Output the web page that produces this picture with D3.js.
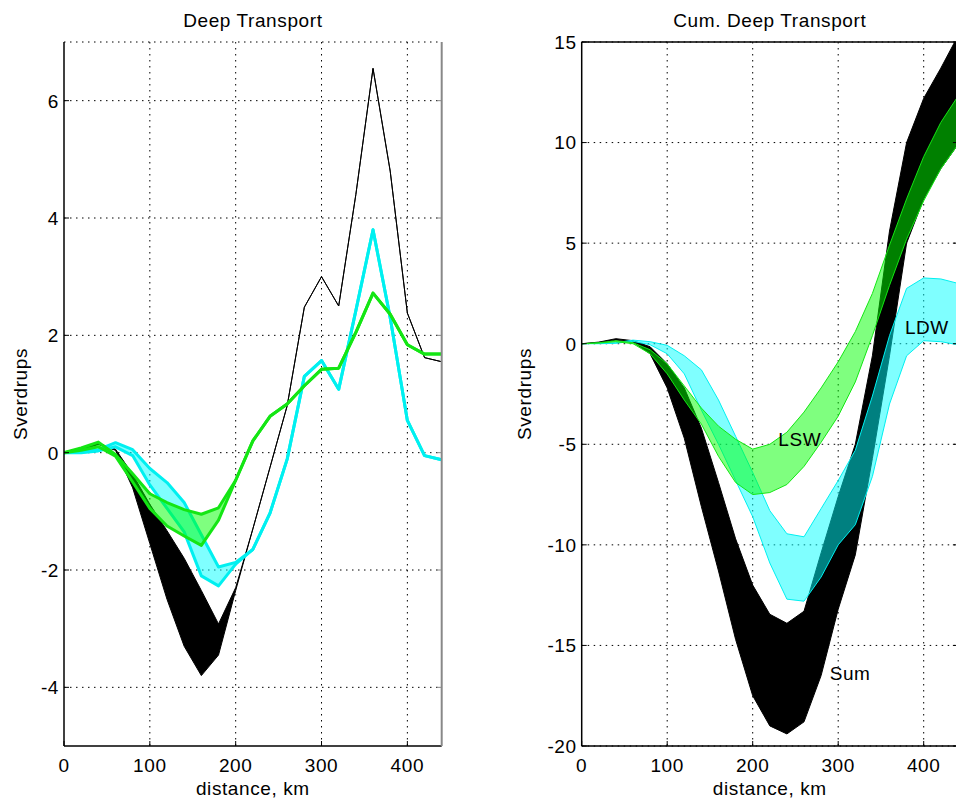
<!DOCTYPE html>
<html lang="en">
<head>
  <meta charset="UTF-8">
  <title>Deep Transport</title>
  <script src="https://d3js.org/d3.v7.min.js"></script>
  <style>
    body {
      margin: 0;
      background: #fff;
    }
    svg {
      display: block;
      font-family: "Liberation Sans", Arial, sans-serif;
    }
    text {
      font-size: 19px;
      letter-spacing: 0.6px;
      fill: #000;
    }
  </style>
</head>
<body>
  <svg id="chart" width="956" height="805"></svg>

  <script>
// distance along section, km
const distance = [0, 20, 40, 60, 80, 100, 120, 140, 160, 180, 200, 220,
  240, 260, 280, 300, 320, 340, 360, 380, 400, 420, 440];
const xTicks = [0, 100, 200, 300, 400];

// ---- Deep Transport (Sv per bin), upper / lower bounds ----
const sumHi = [0, 0.06, 0.16, 0.06, -0.37, -0.88, -1.33, -1.8, -2.35, -2.92, -2.3, -1.3,
  -0.25, 0.8, 2.48, 3.0, 2.5, 4.4, 6.55, 4.8, 2.38, 1.62, 1.55];
const sumLo = [0, 0.04, 0.14, 0.04, -0.6, -1.55, -2.5, -3.3, -3.8, -3.45, -2.35, -1.3,
  -0.25, 0.8, 2.48, 3.0, 2.5, 4.4, 6.55, 4.8, 2.38, 1.62, 1.55];
const lswHi = [0, 0.08, 0.18, -0.03, -0.36, -0.7, -0.85, -0.97, -1.05, -0.94, -0.47, 0.2,
  0.62, 0.83, 1.14, 1.42, 1.44, 2.05, 2.72, 2.36, 1.84, 1.68, 1.68];
const lswLo = [0, 0.04, 0.1, -0.06, -0.5, -0.95, -1.25, -1.42, -1.58, -1.15, -0.47, 0.2,
  0.62, 0.83, 1.14, 1.42, 1.44, 2.05, 2.72, 2.36, 1.84, 1.68, 1.68];
const ldwHi = [0, 0.02, 0.05, 0.17, 0.05, -0.27, -0.51, -0.85, -1.4, -1.95, -1.87, -1.65,
  -1.03, -0.11, 1.3, 1.57, 1.08, 2.42, 3.8, 2.3, 0.55, -0.05, -0.12];
const ldwLo = [0, 0.0, 0.03, 0.1, -0.05, -0.55, -0.95, -1.35, -2.1, -2.27, -1.9, -1.65,
  -1.03, -0.11, 1.3, 1.57, 1.08, 2.42, 3.8, 2.3, 0.55, -0.05, -0.12];
const deepTicks = [-4, -2, 0, 2, 4, 6];

// ---- Cumulative Deep Transport (Sv), upper / lower bounds ----
const cumSumHi = [0, 0.08, 0.25, 0.15, -0.15, -1.0, -2.2, -4.2, -6.9, -9.7, -12.0, -13.45,
  -13.9, -13.3, -10.4, -7.6, -5.0, -0.6, 5.6, 10.0, 12.2, 13.7, 15.3];
const cumSumLo = [0, 0.04, 0.18, 0.08, -0.5, -2.2, -4.7, -8.1, -11.3, -14.7, -17.5, -19.0,
  -19.4, -18.8, -16.5, -13.2, -10.5, -5.7, -0.6, 5.0, 7.2, 8.7, 9.9];
const cumLswHi = [0, 0.05, 0.15, 0.05, -0.3, -1.0, -2.1, -3.2, -4.1, -4.75, -5.24, -5.0,
  -4.4, -3.4, -2.2, -0.9, 0.6, 2.5, 4.9, 7.2, 9.3, 11.0, 12.3];
const cumLswLo = [0, 0.03, 0.1, 0.0, -0.5, -1.5, -2.8, -4.0, -5.6, -6.9, -7.5, -7.4,
  -7.0, -6.1, -4.9, -3.6, -1.9, 0.4, 2.9, 5.2, 7.1, 8.7, 9.9];
const cumLdwHi = [0, 0.02, 0.05, 0.18, 0.1, -0.08, -0.6, -1.3, -2.8, -4.6, -6.4, -8.3,
  -9.45, -9.6, -8.2, -6.8, -5.3, -2.6, 0.4, 2.75, 3.27, 3.22, 3.0];
const cumLdwLo = [0, 0.0, 0.02, 0.12, -0.05, -0.5, -1.5, -3.3, -5.0, -6.8, -8.6, -10.9,
  -12.7, -12.8, -11.6, -10.0, -9.0, -6.6, -3.0, -0.6, 0.15, 0.1, -0.05];
const cumTicks = [-20, -15, -10, -5, 0, 5, 10, 15];

// band names written inside the right panel
const cumLabels = [
  { text: "LSW", km: 230, sv: -5.1 },
  { text: "Sum", km: 290, sv: -16.7 },
  { text: "LDW", km: 378, sv: 0.5 }
];

const svg = d3.select("#chart");

function drawPanel(p) {
  const x = d3.scaleLinear().domain([0, 440]).range([p.left, p.right]);
  const y = d3.scaleLinear().domain(p.yDomain).range([746, 42]);
  const g = svg.append("g");

  g.append("clipPath").attr("id", p.id + "-clip")
    .append("rect")
    .attr("x", p.left).attr("y", 42)
    .attr("width", p.right - p.left).attr("height", 704);

  // dotted grid
  g.selectAll(".vgrid").data(xTicks.filter(d => d > 0)).enter()
    .append("line")
    .attr("x1", d => x(d)).attr("x2", d => x(d))
    .attr("y1", 42).attr("y2", 746)
    .attr("stroke", "#000").attr("stroke-width", 1)
    .attr("stroke-dasharray", "1.5,4.5");
  g.selectAll(".hgrid").data(p.yTicks.concat(p.dottedTop ? [p.yDomain[1]] : [])).enter()
    .append("line")
    .attr("x1", p.left).attr("x2", p.right)
    .attr("y1", d => y(d)).attr("y2", d => y(d))
    .attr("stroke", "#000").attr("stroke-width", 1)
    .attr("stroke-dasharray", "1.5,4.5");

  // bands
  const plot = g.append("g").attr("clip-path", `url(#${p.id}-clip)`);
  p.bands.forEach(b => {
    const rows = distance.map((d, i) => ({ d, hi: b.hi[i], lo: b.lo[i] }));
    const area = d3.area().x(r => x(r.d)).y0(r => y(r.lo)).y1(r => y(r.hi));
    plot.append("path")
      .attr("d", area(rows))
      .attr("fill", b.fill)
      .attr("fill-opacity", b.opacity);
    [r => r.hi, r => r.lo].forEach(acc => {
      plot.append("path")
        .attr("d", d3.line().x(r => x(r.d)).y(r => y(acc(r)))(rows))
        .attr("fill", "none")
        .attr("stroke", b.stroke)
        .attr("stroke-width", b.width)
        .attr("stroke-linejoin", "round");
    });
  });

  // axes box
  g.append("line").attr("x1", p.left).attr("x2", p.left).attr("y1", 42).attr("y2", 746)
    .attr("stroke", "#000").attr("stroke-width", 1.5);
  g.append("line").attr("x1", p.left).attr("x2", p.right).attr("y1", 746).attr("y2", 746)
    .attr("stroke", "#000").attr("stroke-width", 1.5);
  if (p.solidTop) {
    g.append("line").attr("x1", p.left).attr("x2", p.right).attr("y1", 42).attr("y2", 42)
      .attr("stroke", "#000").attr("stroke-width", 1.5);
  }
  if (p.grayRight) {
    g.append("line").attr("x1", p.right).attr("x2", p.right).attr("y1", 42).attr("y2", 746)
      .attr("stroke", "#888").attr("stroke-width", 2);
  }

  // inward ticks
  g.selectAll(".ytick").data(p.yTicks).enter().append("line")
    .attr("x1", p.left).attr("x2", p.left + 5)
    .attr("y1", d => y(d)).attr("y2", d => y(d))
    .attr("stroke", "#000");
  g.selectAll(".ytickr").data(p.yTicks).enter().append("line")
    .attr("x1", p.right - 5).attr("x2", p.right)
    .attr("y1", d => y(d)).attr("y2", d => y(d))
    .attr("stroke", p.grayRight ? "#888" : "#000");
  g.selectAll(".xtick").data(xTicks).enter().append("line")
    .attr("x1", d => x(d)).attr("x2", d => x(d))
    .attr("y1", 746).attr("y2", 741)
    .attr("stroke", "#000");

  // tick labels
  g.selectAll(".xlab").data(xTicks).enter().append("text")
    .attr("x", d => x(d)).attr("y", 772)
    .attr("text-anchor", "middle")
    .text(d => d);
  g.selectAll(".ylab").data(p.yTicks).enter().append("text")
    .attr("x", p.left - 5).attr("y", d => y(d))
    .attr("dy", "0.36em")
    .attr("text-anchor", "end")
    .text(d => d);

  // titles
  const mid = (p.left + p.right) / 2;
  g.append("text").attr("x", mid).attr("y", 27)
    .attr("text-anchor", "middle").text(p.title);
  g.append("text").attr("x", mid).attr("y", 795)
    .attr("text-anchor", "middle").text("distance, km");
  g.append("text")
    .attr("transform", `translate(${p.ylabelX},394) rotate(-90)`)
    .attr("text-anchor", "middle").text("Sverdrups");

  (p.labels || []).forEach(l => {
    g.append("text").attr("x", x(l.km)).attr("y", y(l.sv)).text(l.text);
  });
}

drawPanel({
  id: "deep", left: 64, right: 441.7, yDomain: [-5, 7], yTicks: deepTicks,
  title: "Deep Transport", ylabelX: 27, dottedTop: true, grayRight: true,
  bands: [
    { hi: sumHi, lo: sumLo, fill: "#000", opacity: 1, stroke: "#000", width: 1 },
    { hi: ldwHi, lo: ldwLo, fill: "#00ffff", opacity: 0.5, stroke: "#00f0f0", width: 3 },
    { hi: lswHi, lo: lswLo, fill: "#00ff00", opacity: 0.5, stroke: "#14e614", width: 3 }
  ]
});

drawPanel({
  id: "cum", left: 581.7, right: 957.9, yDomain: [-20, 15], yTicks: cumTicks,
  title: "Cum. Deep Transport", ylabelX: 531, solidTop: true,
  labels: cumLabels,
  bands: [
    { hi: cumSumHi, lo: cumSumLo, fill: "#000", opacity: 1, stroke: "#000", width: 1 },
    { hi: cumLdwHi, lo: cumLdwLo, fill: "#00ffff", opacity: 0.5, stroke: "#00f0f0", width: 1 },
    { hi: cumLswHi, lo: cumLswLo, fill: "#00ff00", opacity: 0.5, stroke: "#14e614", width: 1 }
  ]
});
  </script>
</body>
</html>
